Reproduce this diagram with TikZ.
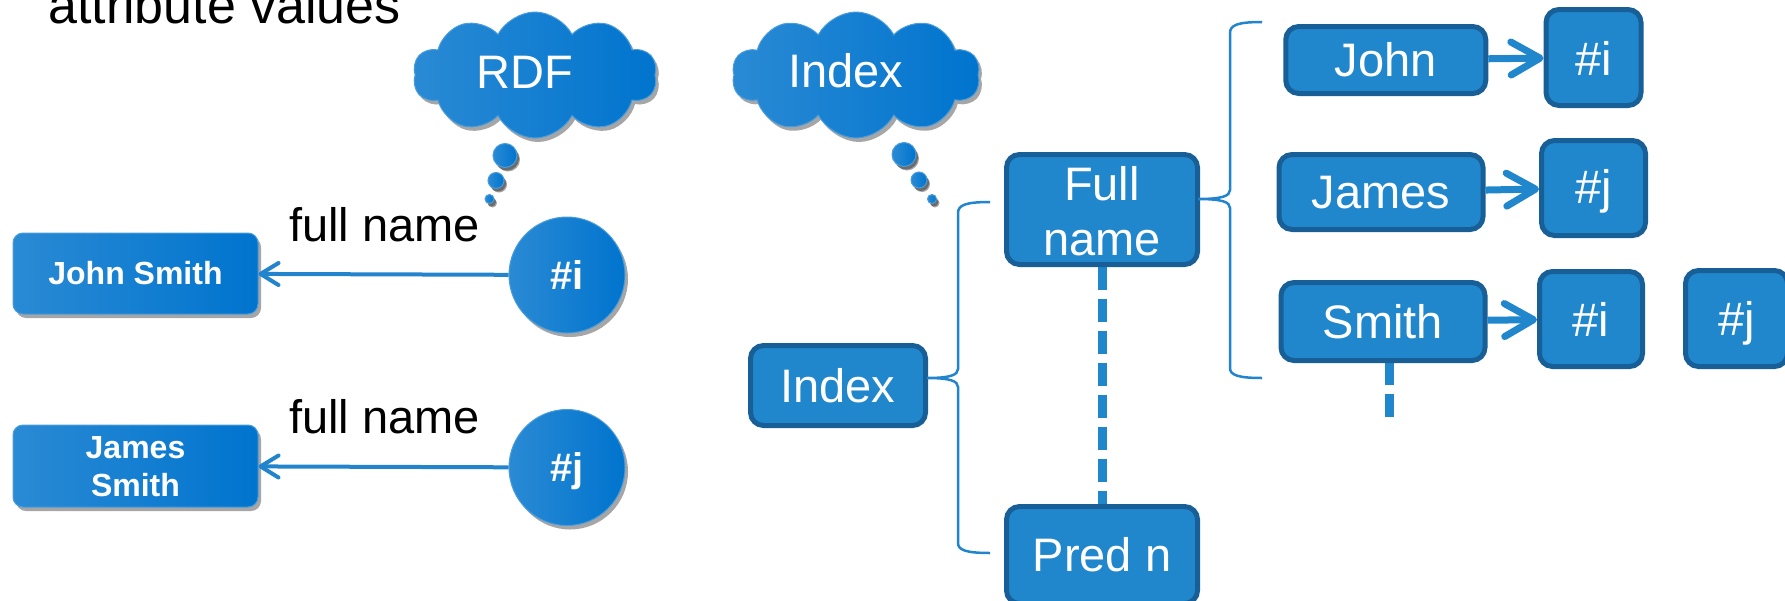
\documentclass[tikz,border=0pt]{standalone}
\usepackage{fontspec}
\setmainfont{Liberation Sans}
\usetikzlibrary{shapes.symbols, shadows, arrows.meta}

\definecolor{boxfill}{HTML}{2187CD}
\definecolor{boxedge}{HTML}{185F98}
\definecolor{linkblue}{HTML}{2284CC}
\definecolor{gradA}{HTML}{2A8AD4}
\definecolor{gradB}{HTML}{0A87E4}
\definecolor{gradC}{HTML}{0074CE}

\tikzset{
  flatbox/.style={draw=boxedge, line width=5pt, fill=boxfill, rounded corners=13pt,
    inner sep=0pt, text=white, font=\fontsize{47}{56}\selectfont,
    text height=33.6pt, text depth=0pt},
  flattext/.style={inner sep=0pt, text=white, font=\fontsize{47}{56}\selectfont,
    text height=33.6pt, text depth=0pt},
  glossy/.style={left color=gradA, middle color=gradB, right color=gradC,
    draw=gradA!85!white, line width=1pt,
    drop shadow={shadow xshift=3pt, shadow yshift=-4pt, opacity=0.35, fill=black}},
  glossybox/.style={glossy, rounded corners=10pt, inner sep=0pt, text=white,
    font=\bfseries\fontsize{32}{38}\selectfont, text height=22.9pt, text depth=0pt},
  glossyball/.style={glossy, circle, inner sep=0pt, minimum size=116pt, text=white,
    font=\bfseries\fontsize{40}{48}\selectfont, text height=28.6pt, text depth=0pt},
  boldtext/.style={inner sep=0pt, text=white, font=\bfseries\fontsize{32}{38}\selectfont,
    text height=22.9pt, text depth=0pt},
  thought/.style={glossy, cloud, cloud puffs=10, cloud puff arc=125, cloud ignores aspect,
    inner sep=0pt},
  bubble/.style={glossy, circle, inner sep=0pt,
    drop shadow={shadow xshift=2pt, shadow yshift=-3pt, opacity=0.35, fill=black}},
  label/.style={anchor=base west, inner sep=0pt, font=\fontsize{47}{56}\selectfont},
  leftlink/.style={draw=linkblue, line width=4pt,
    -{Straight Barb[length=18pt, width=22pt, round]}},
  rightlink/.style={draw=boxfill, line width=7pt,
    -{Straight Barb[length=29pt, width=33pt, round]}},
  brace/.style={draw=linkblue, line width=2.5pt},
  dashlink/.style={draw=boxfill, line width=9pt, dash pattern=on 23pt off 9pt}
}

\begin{document}
\begin{tikzpicture}[x=1pt, y=-1pt]
\useasboundingbox (0,0) rectangle (1785,600);
\clip (0,0) rectangle (1785,600);

% heading line
\node[anchor=base west, inner sep=0pt, font=\fontsize{52}{62}\selectfont] (heading) at (48,23) {attribute values};

% ---------- RDF view ----------
\node[thought, minimum width=244pt, minimum height=126pt] (rdfcloud) at (535,75) {};
\node[flattext] (rdftext) at (524.5,71.5) {RDF};
\node[bubble, minimum size=24pt] (rdfb1) at (505,155.5) {};
\node[bubble, minimum size=16pt] (rdfb2) at (496,180.5) {};
\node[bubble, minimum size=9pt] (rdfb3) at (489.5,199) {};

\node[glossybox, minimum width=245pt, minimum height=81pt] (js) at (135.5,273.5) {John Smith};
\node[glossybox, minimum width=245pt, minimum height=82pt] (jms) at (135.5,466) {};
\node[boldtext] (jmsa) at (135.5,447.5) {James};
\node[boldtext] (jmsb) at (135.5,485) {Smith};

\node[glossyball] (ci) at (567,275) {\#i};
\node[glossyball] (cj) at (567,467.5) {\#j};

\draw[leftlink] (ci) -- (js);
\draw[leftlink] (cj) -- (jms);
\node[label] (fn1) at (289,241) {full name};
\node[label] (fn2) at (289,433) {full name};

% ---------- index view ----------
\node[thought, minimum width=248pt, minimum height=126pt] (idxcloud) at (856,75) {};
\node[flattext] (idxtext) at (846,70.5) {Index};
\node[bubble, minimum size=24pt] (idxb1) at (904,154.5) {};
\node[bubble, minimum size=16pt] (idxb2) at (919,180) {};
\node[bubble, minimum size=9pt] (idxb3) at (932,199) {};

% dashed links (drawn first so the boxes sit on top)
\coordinate (fulldash) at (1102,267);
\coordinate (preddash) at (1102,504);
\draw[dashlink] (fulldash) -- (preddash);
\coordinate (smithdash) at (1389,362);
\coordinate (smithend) at (1389,418);
\draw[dashlink] (smithdash) -- (smithend);

\node[flatbox, minimum width=175pt, minimum height=80pt] (idx) at (838,385.5) {Index};
\node[flatbox, minimum width=191pt, minimum height=110pt] (full) at (1102,209.5) {};
\node[flattext] (fulla) at (1102,184) {Full};
\node[flattext] (fullb) at (1102,239) {name};
\node[flatbox, minimum width=191pt, minimum height=97pt] (pred) at (1102,555) {Pred n};

\node[flatbox, minimum width=200pt, minimum height=67pt] (john) at (1385.75,60) {John};
\node[flatbox, minimum width=95pt, minimum height=96pt] (ia) at (1593.5,57.5) {};
\node[flattext] (iat) at (1593.5,59) {\#i};
\node[flatbox, minimum width=204pt, minimum height=75pt] (james) at (1381,192) {James};
\node[flatbox, minimum width=104pt, minimum height=95pt] (ja) at (1593.5,188) {};
\node[flattext] (jat) at (1593.5,187) {\#j};
\node[flatbox, minimum width=204pt, minimum height=78pt] (smith) at (1383,321.5) {Smith};
\node[flatbox, minimum width=103pt, minimum height=95pt] (ib) at (1591,319) {};
\node[flattext] (ibt) at (1591,320) {\#i};
\node[flatbox, minimum width=102pt, minimum height=96pt] (jb) at (1736.5,318.5) {};
\node[flattext] (jbt) at (1736.5,319) {\#j};

\draw[rightlink] (john) -- (ia);
\draw[rightlink] (james) -- (ja);
\draw[rightlink] (smith) -- (ib);

% brace from Index to its two children
\coordinate (lbtop) at (990,202);
\coordinate (lbtip) at (927,378);
\coordinate (lbbot) at (990,553);
\draw[brace] (lbtop) .. controls (966,202) and (958,205) .. (958,213) -- (958,369)
  .. controls (958,375) and (950,378) .. (lbtip)
  .. controls (950,378) and (958,381) .. (958,387) -- (958,543)
  .. controls (958,550) and (966,553) .. (lbbot);

% brace from Full name to the name parts
\coordinate (rbtop) at (1262,22);
\coordinate (rbtip) at (1198,199);
\coordinate (rbbot) at (1262,378);
\draw[brace] (rbtop) .. controls (1238,22) and (1230,25) .. (1230,33) -- (1230,190)
  .. controls (1230,196) and (1222,199) .. (rbtip)
  .. controls (1222,199) and (1230,202) .. (1230,208) -- (1230,368)
  .. controls (1230,375) and (1238,378) .. (rbbot);
\end{tikzpicture}
\end{document}
